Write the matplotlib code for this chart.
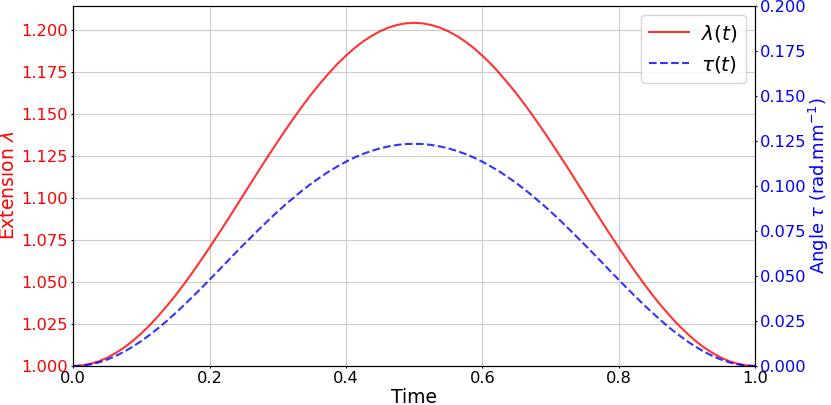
import matplotlib
matplotlib.use('Agg')
import matplotlib.pyplot as plt

# time samples (step 0.0125) and values
time = [0.0000, 0.0125, 0.0250, 0.0375, 0.0500, 0.0625, 0.0750, 0.0875,
        0.1000, 0.1125, 0.1250, 0.1375, 0.1500, 0.1625, 0.1750, 0.1875,
        0.2000, 0.2125, 0.2250, 0.2375, 0.2500, 0.2625, 0.2750, 0.2875,
        0.3000, 0.3125, 0.3250, 0.3375, 0.3500, 0.3625, 0.3750, 0.3875,
        0.4000, 0.4125, 0.4250, 0.4375, 0.4500, 0.4625, 0.4750, 0.4875,
        0.5000, 0.5125, 0.5250, 0.5375, 0.5500, 0.5625, 0.5750, 0.5875,
        0.6000, 0.6125, 0.6250, 0.6375, 0.6500, 0.6625, 0.6750, 0.6875,
        0.7000, 0.7125, 0.7250, 0.7375, 0.7500, 0.7625, 0.7750, 0.7875,
        0.8000, 0.8125, 0.8250, 0.8375, 0.8500, 0.8625, 0.8750, 0.8875,
        0.9000, 0.9125, 0.9250, 0.9375, 0.9500, 0.9625, 0.9750, 0.9875,
        1.0000]

extension = [1.0000, 1.0003, 1.0013, 1.0028, 1.0050, 1.0078, 1.0111, 1.0150,
             1.0195, 1.0244, 1.0299, 1.0358, 1.0420, 1.0487, 1.0557, 1.0630,
             1.0705, 1.0782, 1.0860, 1.0940, 1.1020, 1.1100, 1.1180, 1.1258,
             1.1335, 1.1410, 1.1483, 1.1553, 1.1620, 1.1682, 1.1741, 1.1796,
             1.1845, 1.1890, 1.1929, 1.1962, 1.1990, 1.2012, 1.2027, 1.2037,
             1.2040,
             1.2037, 1.2027, 1.2012, 1.1990, 1.1962, 1.1929, 1.1890, 1.1845,
             1.1796, 1.1741, 1.1682, 1.1620, 1.1553, 1.1483, 1.1410, 1.1335,
             1.1258, 1.1180, 1.1100, 1.1020, 1.0940, 1.0860, 1.0782, 1.0705,
             1.0630, 1.0557, 1.0487, 1.0420, 1.0358, 1.0299, 1.0244, 1.0195,
             1.0150, 1.0111, 1.0078, 1.0050, 1.0028, 1.0013, 1.0003, 1.0000]

angle = [0.0000, 0.0002, 0.0009, 0.0020, 0.0036, 0.0056, 0.0080, 0.0108,
         0.0139, 0.0174, 0.0211, 0.0251, 0.0294, 0.0338, 0.0384, 0.0431,
         0.0479, 0.0528, 0.0577, 0.0626, 0.0674, 0.0721, 0.0768, 0.0814,
         0.0858, 0.0900, 0.0940, 0.0979, 0.1015, 0.1048, 0.1080, 0.1108,
         0.1134, 0.1157, 0.1177, 0.1194, 0.1208, 0.1219, 0.1227, 0.1232,
         0.1233,
         0.1232, 0.1227, 0.1219, 0.1208, 0.1194, 0.1177, 0.1157, 0.1134,
         0.1108, 0.1080, 0.1048, 0.1015, 0.0979, 0.0940, 0.0900, 0.0858,
         0.0814, 0.0768, 0.0721, 0.0674, 0.0626, 0.0577, 0.0528, 0.0479,
         0.0431, 0.0384, 0.0338, 0.0294, 0.0251, 0.0211, 0.0174, 0.0139,
         0.0108, 0.0080, 0.0056, 0.0036, 0.0020, 0.0009, 0.0002, 0.0000]

fig, ax = plt.subplots(figsize=(8.31, 4.05), dpi=100)
fig.subplots_adjust(left=0.0882, right=0.9085, bottom=0.0963, top=0.986)

l1, = ax.plot(time, extension, color='r', alpha=0.8, linewidth=1.5,
              label=r'$\lambda(t)$')
ax.set_xlim(0, 1)
ax.set_ylim(bottom=1.0)
ax.set_xlabel('Time', fontsize=13.5, labelpad=1)
ax.set_ylabel(r'Extension $\lambda$', color='r', fontsize=13.5, labelpad=2.5)
ax.tick_params(axis='y', labelcolor='r', labelsize=11.7, length=1.7, pad=2)
ax.tick_params(axis='x', labelsize=11.7, length=1.7, pad=2)
ax.grid(True, color='0.8')

ax2 = ax.twinx()
l2, = ax2.plot(time, angle, color='b', alpha=0.8, linewidth=1.5,
               linestyle='--', label=r'$\tau(t)$')
ax2.set_ylim(0, 0.2)
ax2.set_ylabel(r'Angle $\tau$ (rad.mm$^{-1}$)', color='b', fontsize=13,
               labelpad=0)
ax2.tick_params(axis='y', labelcolor='b', labelsize=11.7, length=1.7, pad=2.0)

ax2.legend(handles=[l1, l2], loc='upper right', fontsize=14.5,
           handlelength=2.0, handletextpad=0.6, borderaxespad=0.45)

plt.savefig('out.png', dpi=100)
plt.close(fig)
